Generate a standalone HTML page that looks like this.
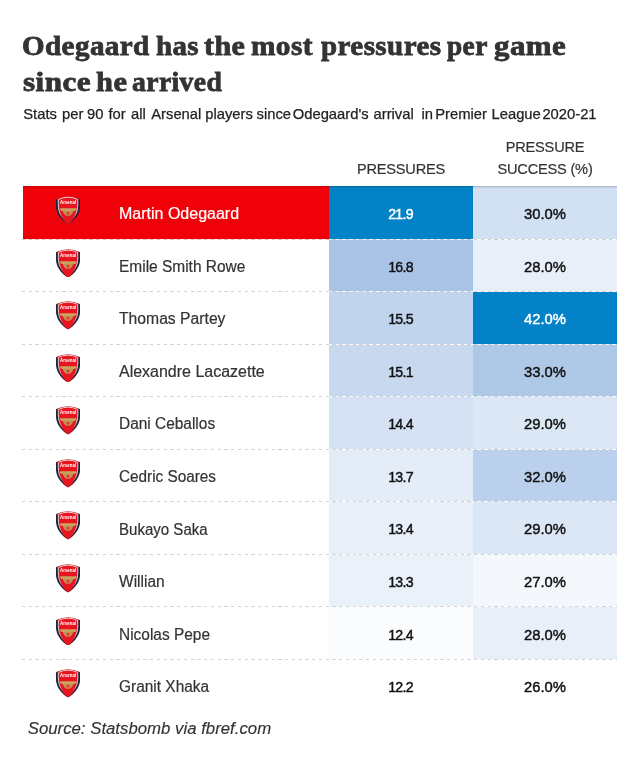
<!DOCTYPE html>
<html><head><meta charset="utf-8"><title>Odegaard pressures</title>
<style>
html,body{margin:0;padding:0;background:#fff;}
body{width:640px;height:766px;position:relative;overflow:hidden;font-family:"Liberation Sans",sans-serif;color:#222;}
.abs{position:absolute;white-space:nowrap;}
.title{font-family:"Liberation Serif",serif;font-weight:bold;color:#333;transform-origin:0 0;-webkit-text-stroke:0.8px #333;}
.sub{color:#222;-webkit-text-stroke:0.25px #222;}
.head{text-align:center;color:#333;-webkit-text-stroke:0.2px #333;letter-spacing:-0.2px;}
.cell{position:absolute;}
.name{left:119px;color:#333;-webkit-text-stroke:0.2px currentColor;transform-origin:0 0;}
.val{text-align:center;color:#111;}
.v1,.v2{display:inline-block;transform:scaleX(.915);-webkit-text-stroke:0.45px currentColor;}
.v2{transform:scaleX(.955);}
.v1{letter-spacing:-0.8px;position:relative;left:-0.6px;}
.dash{position:absolute;left:22px;width:595px;height:1px;background:repeating-linear-gradient(90deg,#d0d0d0 0,#d0d0d0 3.1px,#fff 3.1px,#fff 6.75px);opacity:.92;}
.crest{position:absolute;left:56.1px;width:24.1px;height:28.6px;filter:blur(0.35px);}
.src{left:27.7px;font-style:italic;color:#333;-webkit-text-stroke:0.15px #333;}
</style></head><body><div id="wrap" style="position:absolute;left:0;top:0;width:640px;height:766px;will-change:transform;">
<svg width="0" height="0" style="position:absolute"><defs>
<linearGradient id="cg" x1="0" y1="0" x2="0" y2="1"><stop offset="0" stop-color="#b8141e"/><stop offset="0.07" stop-color="#b8141e"/><stop offset="0.16" stop-color="#1b2440"/><stop offset="0.75" stop-color="#1b2440"/><stop offset="0.95" stop-color="#a01824"/></linearGradient>
<linearGradient id="cw" x1="0" y1="0" x2="0" y2="1"><stop offset="0" stop-color="#f6e4de"/><stop offset="0.55" stop-color="#f6e4de"/><stop offset="0.85" stop-color="#ea1620"/></linearGradient>
</defs></svg>

<div class="abs title" style="left:22.06px;top:28px;font-size:28px;line-height:35.5px;letter-spacing:0.4px;transform:scaleX(1.0384)">Odegaard</div>
<div class="abs title" style="left:155.87px;top:28px;font-size:28px;line-height:35.5px;letter-spacing:0.4px;transform:scaleX(1.0325)">has</div>
<div class="abs title" style="left:204.23px;top:28px;font-size:28px;line-height:35.5px;letter-spacing:0.4px;transform:scaleX(1.0730)">the</div>
<div class="abs title" style="left:251.20px;top:28px;font-size:28px;line-height:35.5px;letter-spacing:0.4px;transform:scaleX(1.0474)">most</div>
<div class="abs title" style="left:320.50px;top:28px;font-size:28px;line-height:35.5px;letter-spacing:0.4px;transform:scaleX(1.0370)">pressures</div>
<div class="abs title" style="left:446.90px;top:28px;font-size:28px;line-height:35.5px;letter-spacing:0.4px;transform:scaleX(0.9780)">per</div>
<div class="abs title" style="left:493.70px;top:28px;font-size:28px;line-height:35.5px;letter-spacing:0.4px;transform:scaleX(1.1048)">game</div>
<div class="abs title" style="left:23.29px;top:63.5px;font-size:28px;line-height:35.5px;letter-spacing:0.4px;transform:scaleX(1.1119)">since</div>
<div class="abs title" style="left:95.51px;top:63.5px;font-size:28px;line-height:35.5px;letter-spacing:0.4px;transform:scaleX(1.0889)">he</div>
<div class="abs title" style="left:132.41px;top:63.5px;font-size:28px;line-height:35.5px;letter-spacing:0.4px;transform:scaleX(0.9872)">arrived</div>
<div class="abs sub" style="left:23.25px;top:103.6px;font-size:14.78px;line-height:20px">Stats</div>
<div class="abs sub" style="left:62.00px;top:103.6px;font-size:14.78px;line-height:20px">per</div>
<div class="abs sub" style="left:87.00px;top:103.6px;font-size:14.78px;line-height:20px">90</div>
<div class="abs sub" style="left:108.50px;top:103.6px;font-size:14.78px;line-height:20px">for</div>
<div class="abs sub" style="left:131.00px;top:103.6px;font-size:14.78px;line-height:20px">all</div>
<div class="abs sub" style="left:151.25px;top:103.6px;font-size:14.78px;line-height:20px">Arsenal</div>
<div class="abs sub" style="left:205.25px;top:103.6px;font-size:14.78px;line-height:20px">players</div>
<div class="abs sub" style="left:256.50px;top:103.6px;font-size:14.78px;line-height:20px">since</div>
<div class="abs sub" style="left:292.75px;top:103.6px;font-size:14.78px;line-height:20px">Odegaard's</div>
<div class="abs sub" style="left:373.50px;top:103.6px;font-size:14.78px;line-height:20px">arrival</div>
<div class="abs sub" style="left:421.50px;top:103.6px;font-size:14.78px;line-height:20px">in</div>
<div class="abs sub" style="left:435.25px;top:103.6px;font-size:14.78px;line-height:20px">Premier</div>
<div class="abs sub" style="left:491.50px;top:103.6px;font-size:14.78px;line-height:20px">League</div>
<div class="abs sub" style="left:542.40px;top:103.6px;font-size:14.78px;line-height:20px">2020-21</div>
<div class="abs head" style="left:329px;width:144px;top:158.6px;font-size:14.6px;line-height:20px">PRESSURES</div>
<div class="abs head" style="left:473px;width:144px;top:136px;font-size:14.6px;line-height:22px">PRESSURE<br>SUCCESS (%)</div>
<div class="cell" style="left:23px;width:306px;top:186px;height:54px;background:#f00008"></div>
<div class="cell" style="left:329px;width:144px;top:186px;height:54px;background:#0482c8"></div>
<div class="cell" style="left:473px;width:144px;top:186px;height:54px;background:#d1e0f2"></div>
<svg class="crest" style="top:196.175px" viewBox="0 0 24 28.5"><path d="M0.1,3.1 Q12,-2.7 23.9,3.1 C24.5,9 24.3,15 21,20 C18.7,23.8 14.8,27.3 12,28.5 C9.2,27.3 5.3,23.8 3,20 C-0.3,15 -0.5,9 0.1,3.1 Z" fill="url(#cg)"/>
<path d="M2.4,3.4 Q12,-1.1 21.6,3.4 C22,9 21.8,14.6 19.2,19.1 C17.1,22.6 14.3,25.8 12,27.5 C9.7,25.8 6.9,22.6 4.8,19.1 C2.2,14.6 2,9 2.4,3.4 Z" fill="#e8141f" stroke="url(#cw)" stroke-width="0.9"/>
<text x="12" y="8.4" text-anchor="middle" font-family="Liberation Sans,sans-serif" font-weight="bold" font-size="4.7" fill="#fff" textLength="16" lengthAdjust="spacingAndGlyphs">Arsenal</text>
<path d="M4.4,12.2 L20.2,12.2 L20.6,13.6 L18.6,15 L5.6,15 L4,13.8 Z" fill="#c8a35f"/>
<path d="M6.6,15 L17.4,15 L16,18 L13.8,19.8 L10.2,19.8 L8,18 Z" fill="#c09056"/>
<circle cx="12" cy="17.2" r="1.4" fill="#e23a32"/></svg>
<div class="abs name" style="top:204.275px;font-size:15.6px;line-height:20px;transform:scaleX(1.026);color:#fff;">Martin Odegaard</div>
<div class="abs val" style="left:329px;width:144px;top:204.175px;font-size:15.5px;line-height:20px;color:#fff;"><span class="v1">21.9</span></div>
<div class="abs val" style="left:473px;width:144px;top:204.175px;font-size:15.5px;line-height:20px;"><span class="v2">30.0%</span></div>
<div class="dash" style="top:239px"></div>
<div class="cell" style="left:329px;width:144px;top:240px;height:52px;background:#a8c3e6"></div>
<div class="cell" style="left:473px;width:144px;top:240px;height:52px;background:#e8eff8"></div>
<svg class="crest" style="top:248.725px" viewBox="0 0 24 28.5"><path d="M0.1,3.1 Q12,-2.7 23.9,3.1 C24.5,9 24.3,15 21,20 C18.7,23.8 14.8,27.3 12,28.5 C9.2,27.3 5.3,23.8 3,20 C-0.3,15 -0.5,9 0.1,3.1 Z" fill="url(#cg)"/>
<path d="M2.4,3.4 Q12,-1.1 21.6,3.4 C22,9 21.8,14.6 19.2,19.1 C17.1,22.6 14.3,25.8 12,27.5 C9.7,25.8 6.9,22.6 4.8,19.1 C2.2,14.6 2,9 2.4,3.4 Z" fill="#e8141f" stroke="url(#cw)" stroke-width="0.9"/>
<text x="12" y="8.4" text-anchor="middle" font-family="Liberation Sans,sans-serif" font-weight="bold" font-size="4.7" fill="#fff" textLength="16" lengthAdjust="spacingAndGlyphs">Arsenal</text>
<path d="M4.4,12.2 L20.2,12.2 L20.6,13.6 L18.6,15 L5.6,15 L4,13.8 Z" fill="#c8a35f"/>
<path d="M6.6,15 L17.4,15 L16,18 L13.8,19.8 L10.2,19.8 L8,18 Z" fill="#c09056"/>
<circle cx="12" cy="17.2" r="1.4" fill="#e23a32"/></svg>
<div class="abs name" style="top:256.825px;font-size:15.6px;line-height:20px;transform:scaleX(0.992);">Emile Smith Rowe</div>
<div class="abs val" style="left:329px;width:144px;top:256.725px;font-size:15.5px;line-height:20px;"><span class="v1">16.8</span></div>
<div class="abs val" style="left:473px;width:144px;top:256.725px;font-size:15.5px;line-height:20px;"><span class="v2">28.0%</span></div>
<div class="dash" style="top:291px"></div>
<div class="cell" style="left:329px;width:144px;top:292px;height:53px;background:#c0d4ed"></div>
<div class="cell" style="left:473px;width:144px;top:292px;height:53px;background:#0482c8"></div>
<svg class="crest" style="top:301.275px" viewBox="0 0 24 28.5"><path d="M0.1,3.1 Q12,-2.7 23.9,3.1 C24.5,9 24.3,15 21,20 C18.7,23.8 14.8,27.3 12,28.5 C9.2,27.3 5.3,23.8 3,20 C-0.3,15 -0.5,9 0.1,3.1 Z" fill="url(#cg)"/>
<path d="M2.4,3.4 Q12,-1.1 21.6,3.4 C22,9 21.8,14.6 19.2,19.1 C17.1,22.6 14.3,25.8 12,27.5 C9.7,25.8 6.9,22.6 4.8,19.1 C2.2,14.6 2,9 2.4,3.4 Z" fill="#e8141f" stroke="url(#cw)" stroke-width="0.9"/>
<text x="12" y="8.4" text-anchor="middle" font-family="Liberation Sans,sans-serif" font-weight="bold" font-size="4.7" fill="#fff" textLength="16" lengthAdjust="spacingAndGlyphs">Arsenal</text>
<path d="M4.4,12.2 L20.2,12.2 L20.6,13.6 L18.6,15 L5.6,15 L4,13.8 Z" fill="#c8a35f"/>
<path d="M6.6,15 L17.4,15 L16,18 L13.8,19.8 L10.2,19.8 L8,18 Z" fill="#c09056"/>
<circle cx="12" cy="17.2" r="1.4" fill="#e23a32"/></svg>
<div class="abs name" style="top:309.375px;font-size:15.6px;line-height:20px;transform:scaleX(1.007);">Thomas Partey</div>
<div class="abs val" style="left:329px;width:144px;top:309.275px;font-size:15.5px;line-height:20px;"><span class="v1">15.5</span></div>
<div class="abs val" style="left:473px;width:144px;top:309.275px;font-size:15.5px;line-height:20px;color:#fff;"><span class="v2">42.0%</span></div>
<div class="dash" style="top:344px"></div>
<div class="cell" style="left:329px;width:144px;top:345px;height:52px;background:#c8d9ef"></div>
<div class="cell" style="left:473px;width:144px;top:345px;height:52px;background:#aec8e8"></div>
<svg class="crest" style="top:353.825px" viewBox="0 0 24 28.5"><path d="M0.1,3.1 Q12,-2.7 23.9,3.1 C24.5,9 24.3,15 21,20 C18.7,23.8 14.8,27.3 12,28.5 C9.2,27.3 5.3,23.8 3,20 C-0.3,15 -0.5,9 0.1,3.1 Z" fill="url(#cg)"/>
<path d="M2.4,3.4 Q12,-1.1 21.6,3.4 C22,9 21.8,14.6 19.2,19.1 C17.1,22.6 14.3,25.8 12,27.5 C9.7,25.8 6.9,22.6 4.8,19.1 C2.2,14.6 2,9 2.4,3.4 Z" fill="#e8141f" stroke="url(#cw)" stroke-width="0.9"/>
<text x="12" y="8.4" text-anchor="middle" font-family="Liberation Sans,sans-serif" font-weight="bold" font-size="4.7" fill="#fff" textLength="16" lengthAdjust="spacingAndGlyphs">Arsenal</text>
<path d="M4.4,12.2 L20.2,12.2 L20.6,13.6 L18.6,15 L5.6,15 L4,13.8 Z" fill="#c8a35f"/>
<path d="M6.6,15 L17.4,15 L16,18 L13.8,19.8 L10.2,19.8 L8,18 Z" fill="#c09056"/>
<circle cx="12" cy="17.2" r="1.4" fill="#e23a32"/></svg>
<div class="abs name" style="top:361.925px;font-size:15.6px;line-height:20px;transform:scaleX(1.025);">Alexandre Lacazette</div>
<div class="abs val" style="left:329px;width:144px;top:361.825px;font-size:15.5px;line-height:20px;"><span class="v1">15.1</span></div>
<div class="abs val" style="left:473px;width:144px;top:361.825px;font-size:15.5px;line-height:20px;"><span class="v2">33.0%</span></div>
<div class="dash" style="top:396px"></div>
<div class="cell" style="left:329px;width:144px;top:397px;height:53px;background:#d5e2f3"></div>
<div class="cell" style="left:473px;width:144px;top:397px;height:53px;background:#dce7f5"></div>
<svg class="crest" style="top:406.375px" viewBox="0 0 24 28.5"><path d="M0.1,3.1 Q12,-2.7 23.9,3.1 C24.5,9 24.3,15 21,20 C18.7,23.8 14.8,27.3 12,28.5 C9.2,27.3 5.3,23.8 3,20 C-0.3,15 -0.5,9 0.1,3.1 Z" fill="url(#cg)"/>
<path d="M2.4,3.4 Q12,-1.1 21.6,3.4 C22,9 21.8,14.6 19.2,19.1 C17.1,22.6 14.3,25.8 12,27.5 C9.7,25.8 6.9,22.6 4.8,19.1 C2.2,14.6 2,9 2.4,3.4 Z" fill="#e8141f" stroke="url(#cw)" stroke-width="0.9"/>
<text x="12" y="8.4" text-anchor="middle" font-family="Liberation Sans,sans-serif" font-weight="bold" font-size="4.7" fill="#fff" textLength="16" lengthAdjust="spacingAndGlyphs">Arsenal</text>
<path d="M4.4,12.2 L20.2,12.2 L20.6,13.6 L18.6,15 L5.6,15 L4,13.8 Z" fill="#c8a35f"/>
<path d="M6.6,15 L17.4,15 L16,18 L13.8,19.8 L10.2,19.8 L8,18 Z" fill="#c09056"/>
<circle cx="12" cy="17.2" r="1.4" fill="#e23a32"/></svg>
<div class="abs name" style="top:414.475px;font-size:15.6px;line-height:20px;transform:scaleX(0.99);">Dani Ceballos</div>
<div class="abs val" style="left:329px;width:144px;top:414.375px;font-size:15.5px;line-height:20px;"><span class="v1">14.4</span></div>
<div class="abs val" style="left:473px;width:144px;top:414.375px;font-size:15.5px;line-height:20px;"><span class="v2">29.0%</span></div>
<div class="dash" style="top:449px"></div>
<div class="cell" style="left:329px;width:144px;top:450px;height:52px;background:#e3ecf7"></div>
<div class="cell" style="left:473px;width:144px;top:450px;height:52px;background:#bad0ec"></div>
<svg class="crest" style="top:458.925px" viewBox="0 0 24 28.5"><path d="M0.1,3.1 Q12,-2.7 23.9,3.1 C24.5,9 24.3,15 21,20 C18.7,23.8 14.8,27.3 12,28.5 C9.2,27.3 5.3,23.8 3,20 C-0.3,15 -0.5,9 0.1,3.1 Z" fill="url(#cg)"/>
<path d="M2.4,3.4 Q12,-1.1 21.6,3.4 C22,9 21.8,14.6 19.2,19.1 C17.1,22.6 14.3,25.8 12,27.5 C9.7,25.8 6.9,22.6 4.8,19.1 C2.2,14.6 2,9 2.4,3.4 Z" fill="#e8141f" stroke="url(#cw)" stroke-width="0.9"/>
<text x="12" y="8.4" text-anchor="middle" font-family="Liberation Sans,sans-serif" font-weight="bold" font-size="4.7" fill="#fff" textLength="16" lengthAdjust="spacingAndGlyphs">Arsenal</text>
<path d="M4.4,12.2 L20.2,12.2 L20.6,13.6 L18.6,15 L5.6,15 L4,13.8 Z" fill="#c8a35f"/>
<path d="M6.6,15 L17.4,15 L16,18 L13.8,19.8 L10.2,19.8 L8,18 Z" fill="#c09056"/>
<circle cx="12" cy="17.2" r="1.4" fill="#e23a32"/></svg>
<div class="abs name" style="top:467.025px;font-size:15.6px;line-height:20px;transform:scaleX(0.982);">Cedric Soares</div>
<div class="abs val" style="left:329px;width:144px;top:466.925px;font-size:15.5px;line-height:20px;"><span class="v1">13.7</span></div>
<div class="abs val" style="left:473px;width:144px;top:466.925px;font-size:15.5px;line-height:20px;"><span class="v2">32.0%</span></div>
<div class="dash" style="top:501px"></div>
<div class="cell" style="left:329px;width:144px;top:502px;height:53px;background:#e8eff9"></div>
<div class="cell" style="left:473px;width:144px;top:502px;height:53px;background:#dce7f5"></div>
<svg class="crest" style="top:511.475px" viewBox="0 0 24 28.5"><path d="M0.1,3.1 Q12,-2.7 23.9,3.1 C24.5,9 24.3,15 21,20 C18.7,23.8 14.8,27.3 12,28.5 C9.2,27.3 5.3,23.8 3,20 C-0.3,15 -0.5,9 0.1,3.1 Z" fill="url(#cg)"/>
<path d="M2.4,3.4 Q12,-1.1 21.6,3.4 C22,9 21.8,14.6 19.2,19.1 C17.1,22.6 14.3,25.8 12,27.5 C9.7,25.8 6.9,22.6 4.8,19.1 C2.2,14.6 2,9 2.4,3.4 Z" fill="#e8141f" stroke="url(#cw)" stroke-width="0.9"/>
<text x="12" y="8.4" text-anchor="middle" font-family="Liberation Sans,sans-serif" font-weight="bold" font-size="4.7" fill="#fff" textLength="16" lengthAdjust="spacingAndGlyphs">Arsenal</text>
<path d="M4.4,12.2 L20.2,12.2 L20.6,13.6 L18.6,15 L5.6,15 L4,13.8 Z" fill="#c8a35f"/>
<path d="M6.6,15 L17.4,15 L16,18 L13.8,19.8 L10.2,19.8 L8,18 Z" fill="#c09056"/>
<circle cx="12" cy="17.2" r="1.4" fill="#e23a32"/></svg>
<div class="abs name" style="top:519.575px;font-size:15.6px;line-height:20px;transform:scaleX(0.965);">Bukayo Saka</div>
<div class="abs val" style="left:329px;width:144px;top:519.475px;font-size:15.5px;line-height:20px;"><span class="v1">13.4</span></div>
<div class="abs val" style="left:473px;width:144px;top:519.475px;font-size:15.5px;line-height:20px;"><span class="v2">29.0%</span></div>
<div class="dash" style="top:554px"></div>
<div class="cell" style="left:329px;width:144px;top:555px;height:52px;background:#eaf1f9"></div>
<div class="cell" style="left:473px;width:144px;top:555px;height:52px;background:#f4f7fc"></div>
<svg class="crest" style="top:564.025px" viewBox="0 0 24 28.5"><path d="M0.1,3.1 Q12,-2.7 23.9,3.1 C24.5,9 24.3,15 21,20 C18.7,23.8 14.8,27.3 12,28.5 C9.2,27.3 5.3,23.8 3,20 C-0.3,15 -0.5,9 0.1,3.1 Z" fill="url(#cg)"/>
<path d="M2.4,3.4 Q12,-1.1 21.6,3.4 C22,9 21.8,14.6 19.2,19.1 C17.1,22.6 14.3,25.8 12,27.5 C9.7,25.8 6.9,22.6 4.8,19.1 C2.2,14.6 2,9 2.4,3.4 Z" fill="#e8141f" stroke="url(#cw)" stroke-width="0.9"/>
<text x="12" y="8.4" text-anchor="middle" font-family="Liberation Sans,sans-serif" font-weight="bold" font-size="4.7" fill="#fff" textLength="16" lengthAdjust="spacingAndGlyphs">Arsenal</text>
<path d="M4.4,12.2 L20.2,12.2 L20.6,13.6 L18.6,15 L5.6,15 L4,13.8 Z" fill="#c8a35f"/>
<path d="M6.6,15 L17.4,15 L16,18 L13.8,19.8 L10.2,19.8 L8,18 Z" fill="#c09056"/>
<circle cx="12" cy="17.2" r="1.4" fill="#e23a32"/></svg>
<div class="abs name" style="top:572.125px;font-size:15.6px;line-height:20px;transform:scaleX(0.995);">Willian</div>
<div class="abs val" style="left:329px;width:144px;top:572.025px;font-size:15.5px;line-height:20px;"><span class="v1">13.3</span></div>
<div class="abs val" style="left:473px;width:144px;top:572.025px;font-size:15.5px;line-height:20px;"><span class="v2">27.0%</span></div>
<div class="dash" style="top:606px"></div>
<div class="cell" style="left:329px;width:144px;top:607px;height:53px;background:#fbfcfe"></div>
<div class="cell" style="left:473px;width:144px;top:607px;height:53px;background:#e8eff8"></div>
<svg class="crest" style="top:616.575px" viewBox="0 0 24 28.5"><path d="M0.1,3.1 Q12,-2.7 23.9,3.1 C24.5,9 24.3,15 21,20 C18.7,23.8 14.8,27.3 12,28.5 C9.2,27.3 5.3,23.8 3,20 C-0.3,15 -0.5,9 0.1,3.1 Z" fill="url(#cg)"/>
<path d="M2.4,3.4 Q12,-1.1 21.6,3.4 C22,9 21.8,14.6 19.2,19.1 C17.1,22.6 14.3,25.8 12,27.5 C9.7,25.8 6.9,22.6 4.8,19.1 C2.2,14.6 2,9 2.4,3.4 Z" fill="#e8141f" stroke="url(#cw)" stroke-width="0.9"/>
<text x="12" y="8.4" text-anchor="middle" font-family="Liberation Sans,sans-serif" font-weight="bold" font-size="4.7" fill="#fff" textLength="16" lengthAdjust="spacingAndGlyphs">Arsenal</text>
<path d="M4.4,12.2 L20.2,12.2 L20.6,13.6 L18.6,15 L5.6,15 L4,13.8 Z" fill="#c8a35f"/>
<path d="M6.6,15 L17.4,15 L16,18 L13.8,19.8 L10.2,19.8 L8,18 Z" fill="#c09056"/>
<circle cx="12" cy="17.2" r="1.4" fill="#e23a32"/></svg>
<div class="abs name" style="top:624.675px;font-size:15.6px;line-height:20px;transform:scaleX(0.99);">Nicolas Pepe</div>
<div class="abs val" style="left:329px;width:144px;top:624.575px;font-size:15.5px;line-height:20px;"><span class="v1">12.4</span></div>
<div class="abs val" style="left:473px;width:144px;top:624.575px;font-size:15.5px;line-height:20px;"><span class="v2">28.0%</span></div>
<div class="dash" style="top:659px"></div>
<div class="cell" style="left:329px;width:144px;top:660px;height:53px;background:#ffffff"></div>
<div class="cell" style="left:473px;width:144px;top:660px;height:53px;background:#ffffff"></div>
<svg class="crest" style="top:669.125px" viewBox="0 0 24 28.5"><path d="M0.1,3.1 Q12,-2.7 23.9,3.1 C24.5,9 24.3,15 21,20 C18.7,23.8 14.8,27.3 12,28.5 C9.2,27.3 5.3,23.8 3,20 C-0.3,15 -0.5,9 0.1,3.1 Z" fill="url(#cg)"/>
<path d="M2.4,3.4 Q12,-1.1 21.6,3.4 C22,9 21.8,14.6 19.2,19.1 C17.1,22.6 14.3,25.8 12,27.5 C9.7,25.8 6.9,22.6 4.8,19.1 C2.2,14.6 2,9 2.4,3.4 Z" fill="#e8141f" stroke="url(#cw)" stroke-width="0.9"/>
<text x="12" y="8.4" text-anchor="middle" font-family="Liberation Sans,sans-serif" font-weight="bold" font-size="4.7" fill="#fff" textLength="16" lengthAdjust="spacingAndGlyphs">Arsenal</text>
<path d="M4.4,12.2 L20.2,12.2 L20.6,13.6 L18.6,15 L5.6,15 L4,13.8 Z" fill="#c8a35f"/>
<path d="M6.6,15 L17.4,15 L16,18 L13.8,19.8 L10.2,19.8 L8,18 Z" fill="#c09056"/>
<circle cx="12" cy="17.2" r="1.4" fill="#e23a32"/></svg>
<div class="abs name" style="top:677.225px;font-size:15.6px;line-height:20px;transform:scaleX(0.99);">Granit Xhaka</div>
<div class="abs val" style="left:329px;width:144px;top:677.125px;font-size:15.5px;line-height:20px;"><span class="v1">12.2</span></div>
<div class="abs val" style="left:473px;width:144px;top:677.125px;font-size:15.5px;line-height:20px;"><span class="v2">26.0%</span></div>
<div class="cell" style="left:23px;width:594px;top:186px;height:1px;background:rgba(0,0,0,.17)"></div><div class="cell" style="left:23px;width:594px;top:187px;height:1px;background:rgba(0,0,0,.06)"></div>
<div class="abs src" style="top:719px;font-size:16.8px;line-height:20px">Source: Statsbomb via fbref.com</div>
</div></body></html>
